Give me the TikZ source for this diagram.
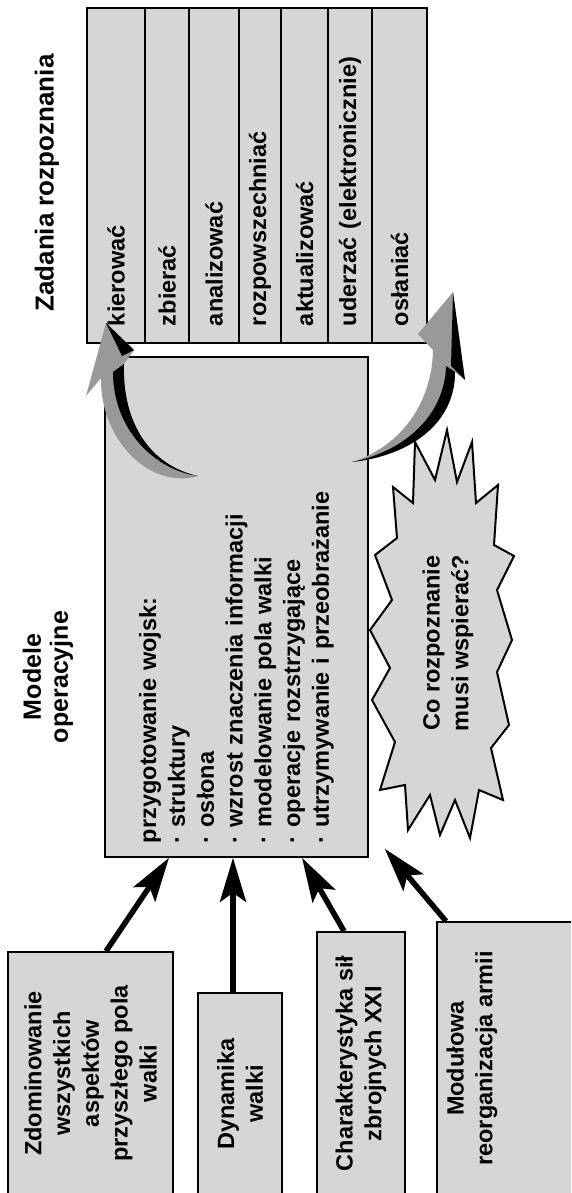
\documentclass[tikz,border=0pt]{standalone}
\usepackage{fontspec}
\setmainfont{Liberation Sans}
\usetikzlibrary{positioning,arrows.meta,calc}
\definecolor{boxgray}{gray}{0.84}
\definecolor{arrgray}{gray}{0.6}

\begin{document}
\begin{tikzpicture}[
    x=1pt, y=-1pt,
    % define styles
    txt/.style={
        font=\fontsize{23.5}{28.8}\selectfont\bfseries,
        align=center,
        rotate=90
    },
    box/.style={
        txt,
        draw,
        line width=1.6pt,
        fill=boxgray,
        inner sep=0pt
    },
    cell/.style={
        box,
        line width=2pt,
        align=left,
        text width=301pt,
        inner xsep=17pt,
        minimum width=335pt
    },
    arr/.style={
        -{Stealth[length=44pt,width=26pt,inset=9pt]},
        line width=5.5pt
    }
]
\useasboundingbox (0,0) rectangle (571,1193);
\clip (0,0) rectangle (571,1193);
\fill[white] (0,0) rectangle (571,1193);

% table of tasks, one column per task
\foreach \i/\x/\w/\t in {1/116/58/kierować, 2/167/44/zbierać, 3/214/50/analizować,
    4/260/42/rozpowszechniać, 5/304.5/47/aktualizować,
    6/350/44/uderzać (elektronicznie), 7/399.5/55/osłaniać}
    \node[cell, minimum height=\w pt] (col-\i) at (\x,175.5) {\t};

\node[txt, font=\fontsize{26}{30}\selectfont\bfseries] (tasks) at (47,183) {Zadania rozpoznania};

% operational models
\node[box, align=left, text width=472pt, inner xsep=14pt, minimum height=263pt] (ops) at (236.5,607)
    {przygotowanie wojsk:\\· struktury\\· osłona\\· wzrost znaczenia informacji\\%
     · modelowanie pola walki\\· operacje rozstrzygające\\· utrzymywanie i przeobrażanie};
\node[txt, font=\fontsize{25}{27}\selectfont\bfseries] (models) at (48,677) {Modele\\operacyjne};

% star with the question
\draw[line width=2pt, fill=boxgray, line join=miter]
    (447,430) -- (457,482) -- (472,442) -- (476,503) -- (498,485) -- (494,545)
    -- (514,556) -- (497,590) -- (512,640) -- (497,672) -- (509,725) -- (491,748)
    -- (503,800) -- (479,790) -- (470,838) -- (455,800) -- (440,835) -- (430,795)
    -- (408,830) -- (405,785) -- (380,790) -- (395,742) -- (372,700) -- (390,668)
    -- (370,630) -- (392,600) -- (375,555) -- (397,538) -- (393,487) -- (413,503)
    -- (415,442) -- (435,480) -- cycle;
\node[txt] (ask) at (448,643) {Co rozpoznanie\\musi wspierać?};

% curved arrow to the left
\fill[arrgray] (198,476) .. controls (150,490) and (100,440) .. (101,378) -- (86,396)
    -- (106,323) -- (134,350) -- (124,364) .. controls (122,425) and (152,466) .. (198,476) -- cycle;
\fill[black] (198,476) .. controls (155,470) and (113,430) .. (113,372) -- (124,364)
    .. controls (122,425) and (152,466) .. (198,476) -- cycle;
\fill[black] (106,323) -- (134,350) -- (122,356) -- cycle;

% curved arrow to the right
\fill[arrgray] (352,462) .. controls (408,456) and (455,425) .. (455,372) -- (465,380)
    -- (453,292) -- (418,334) -- (433,350) .. controls (432,402) and (402,446) .. (352,462) -- cycle;
\fill[black] (352,462) .. controls (408,456) and (455,425) .. (455,372) -- (446,366)
    .. controls (445,414) and (406,451) .. (352,462) -- cycle;
\fill[black] (453,292) -- (465,380) -- (451,366) -- cycle;

% boxes at the bottom
\node[box, minimum width=243pt, minimum height=165pt] (dom) at (90.5,1073.5)
    {Zdominowanie\\wszystkich\\aspektów\\przyszłego pola\\walki};
\node[box, minimum width=202pt, minimum height=84pt] (dyn) at (240,1094) {Dynamika\\walki};
\node[box, minimum width=263pt, minimum height=88pt] (cha) at (361,1063.5) {Charakterystyka sił\\zbrojnych XXI};
\node[box, minimum width=273pt, minimum height=153pt] (mod) at (513.5,1058.5) {};
\node[txt] (mod-t) at ([xshift=-41.5pt]mod.center) {Modułowa\\reorganizacja armii};

% arrows into the models box
\coordinate (aim) at ([xshift=16pt,yshift=9pt]ops.south west);
\draw[arr] ([xshift=15.5pt]dom.east) -- ([xshift=-67.5pt]ops.west);
\draw[arr] ([xshift=-7pt]dyn.east) -- ([xshift=-3.5pt]ops.west);
\draw[arr] ([xshift=-17pt]cha.east) -- ([xshift=65.5pt]ops.west);
\draw[arr] ([xshift=-67.5pt]mod.east) -- (aim);
\end{tikzpicture}
\end{document}
